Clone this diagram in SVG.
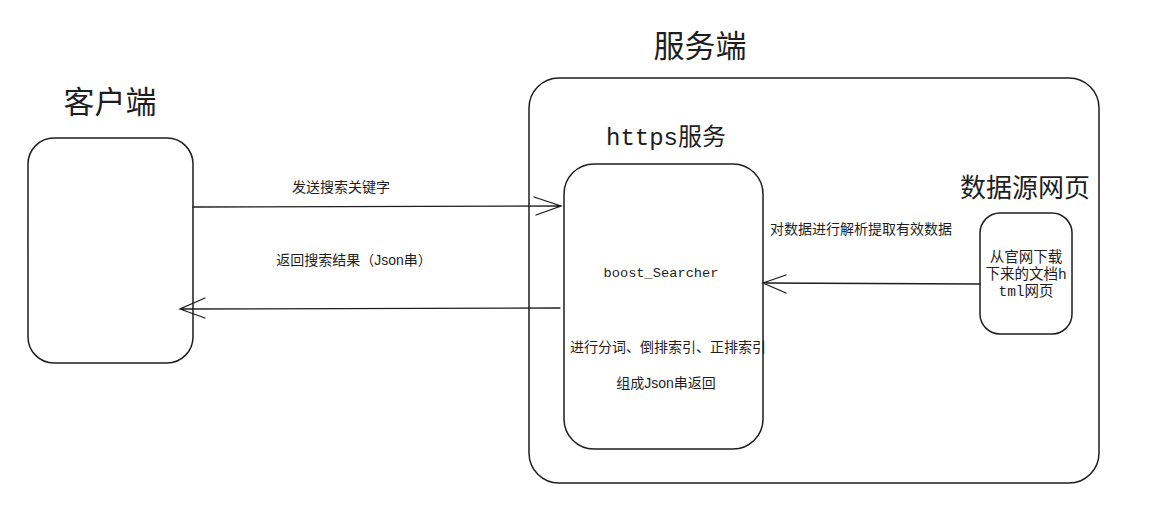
<svg xmlns="http://www.w3.org/2000/svg" width="1154" height="528" viewBox="0 0 1154 528">
<style>
.box{fill:#fff;stroke:#1e1e1e;stroke-width:1.5}
.ln{fill:none;stroke:#1e1e1e;stroke-width:1.3;stroke-linecap:round}
.t{font-family:"Liberation Sans","Noto Sans CJK SC",sans-serif;fill:#1e1e1e}
.m{font-family:"Liberation Mono","Noto Sans CJK SC",monospace;fill:#1e1e1e}
</style>
<rect width="1154" height="528" fill="#fff"/>
<g id="client">
<rect class="box" x="28" y="138" width="165" height="225" rx="26"/>
<text class="t" x="110" y="113" font-size="31" text-anchor="middle">客户端</text>
</g>
<g id="server">
<rect class="box" x="529" y="78" width="570" height="405" rx="30"/>
<text class="t" x="700" y="57" font-size="31" text-anchor="middle">服务端</text>
</g>
<g id="searcher">
<rect class="box" x="564" y="164" width="199" height="285" rx="30"/>
<text class="m" x="666" y="145" font-size="24" text-anchor="middle">https服务</text>
<text class="m" x="661" y="277" font-size="13.7" text-anchor="middle">boost_Searcher</text>
<text class="t" x="668" y="352" font-size="14" text-anchor="middle">进行分词、倒排索引、正排索引</text>
<text class="t" x="666" y="388" font-size="14" text-anchor="middle">组成Json串返回</text>
</g>
<g id="datasource">
<rect class="box" x="980" y="213" width="92" height="121" rx="20"/>
<text class="t" x="1025" y="197" font-size="26" text-anchor="middle">数据源网页</text>
<text class="t" x="1026" y="262" font-size="14.5" text-anchor="middle">从官网下载</text>
<text class="m" x="1026" y="279" font-size="14.5" text-anchor="middle">下来的文档h</text>
<text class="m" x="1026" y="296" font-size="14.5" text-anchor="middle">tml网页</text>
</g>
<g id="connectors">
<path class="ln" d="M193 207 L561 206 M534 197 L561 206 L536 215"/>
<path class="ln" d="M560 308 L180 309 M205 298 L180 309 L205 318"/>
<path class="ln" d="M980 284 L763 283 M786 275 L763 283 L786 293"/>
<text class="t" x="341" y="192" font-size="14" text-anchor="middle">发送搜索关键字</text>
<text class="t" x="354" y="265" font-size="14" text-anchor="middle">返回搜索结果（Json串）</text>
<text class="t" x="861" y="234" font-size="14" text-anchor="middle">对数据进行解析提取有效数据</text>
</g>
</svg>
